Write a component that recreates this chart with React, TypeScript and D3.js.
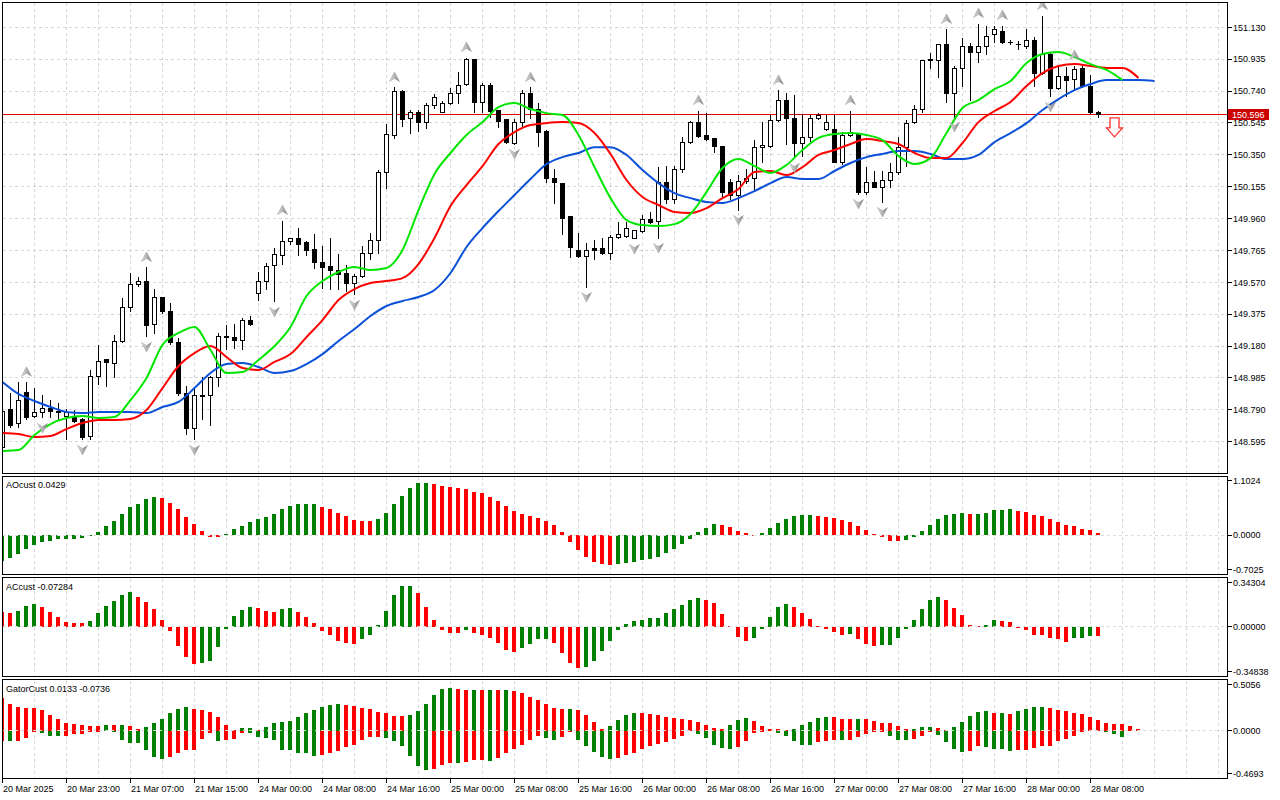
import React from 'react';
import * as d3 from 'd3';

// H1 bars, 20 Mar 15:00 .. 28 Mar 09:00
const opens = [
  148.562, 148.789, 148.704, 148.893, 148.752, 148.771, 148.801, 148.777, 148.752, 148.746,
  148.728, 148.624, 148.991, 149.095, 149.071, 149.211, 149.413, 149.554, 149.572, 149.309,
  149.480, 149.389, 149.199, 148.887, 148.673, 148.869, 148.875, 148.985, 149.236, 149.230,
  149.217, 149.334, 149.499, 149.572, 149.670, 149.731, 149.817, 149.835, 149.811, 149.768,
  149.694, 149.664, 149.645, 149.621, 149.560, 149.603, 149.749, 149.823, 150.239, 150.471,
  150.740, 150.575, 150.606, 150.545, 150.649, 150.606, 150.661, 150.728, 150.783, 150.930,
  150.667, 150.771, 150.618, 150.569, 150.422, 150.545, 150.722, 150.630, 150.490, 150.208,
  150.172, 149.970, 149.762, 149.725, 149.774, 149.774, 149.749, 149.847, 149.853, 149.841,
  149.878, 149.957, 149.939, 150.178, 150.074, 150.263, 150.428, 150.545, 150.471, 150.447,
  150.398, 150.178, 150.104, 150.184, 150.208, 150.392, 150.398, 150.557, 150.685, 150.575,
  150.422, 150.453, 150.575, 150.502, 150.502, 150.306, 150.471, 150.477, 150.117, 150.178,
  150.153, 150.190, 150.239, 150.392, 150.545, 150.630, 150.930, 150.924, 151.022, 150.728,
  150.875, 151.010, 150.973, 151.010, 151.083, 151.107, 151.040, 151.025, 151.010, 151.052,
  150.850, 150.961, 150.753, 150.832, 150.808, 150.875, 150.765, 150.609,
];
const highs = [
  148.819, 148.899, 148.961, 148.961, 148.924, 148.881, 148.856, 148.832, 148.801, 148.789,
  148.746, 149.034, 149.187, 149.107, 149.248, 149.480, 149.633, 149.603, 149.664, 149.535,
  149.486, 149.444, 149.230, 148.936, 148.930, 148.991, 148.997, 149.260, 149.309, 149.321,
  149.352, 149.364, 149.639, 149.694, 149.780, 149.951, 149.847, 149.908, 149.823, 149.866,
  149.798, 149.847, 149.749, 149.676, 149.621, 149.798, 149.872, 150.263, 150.539, 150.765,
  150.747, 150.630, 150.630, 150.667, 150.722, 150.685, 150.759, 150.857, 150.948, 150.936,
  150.795, 150.795, 150.630, 150.575, 150.575, 150.747, 150.765, 150.667, 150.502, 150.269,
  150.178, 149.970, 149.872, 149.811, 149.829, 149.847, 149.860, 149.939, 149.939, 149.896,
  149.982, 150.006, 150.276, 150.282, 150.282, 150.465, 150.557, 150.624, 150.606, 150.453,
  150.404, 150.208, 150.227, 150.269, 150.441, 150.551, 150.594, 150.747, 150.734, 150.716,
  150.600, 150.594, 150.606, 150.594, 150.594, 150.490, 150.624, 150.483, 150.276, 150.251,
  150.251, 150.300, 150.459, 150.563, 150.655, 150.930, 150.973, 151.028, 151.120, 150.899,
  151.065, 151.034, 151.156, 151.138, 151.144, 151.144, 151.058, 151.052, 151.120, 151.071,
  151.205, 150.979, 150.899, 150.893, 150.899, 150.899, 150.844, 150.624,
];
const lows = [
  148.526, 148.679, 148.679, 148.728, 148.740, 148.740, 148.746, 148.728, 148.606, 148.710,
  148.606, 148.606, 148.942, 148.930, 148.985, 149.199, 149.389, 149.542, 149.236, 149.254,
  149.382, 149.187, 148.875, 148.636, 148.606, 148.728, 148.697, 148.930, 149.156, 149.168,
  149.156, 149.303, 149.456, 149.523, 149.450, 149.676, 149.804, 149.731, 149.731, 149.652,
  149.535, 149.523, 149.523, 149.511, 149.493, 149.597, 149.707, 149.749, 150.141, 150.447,
  150.526, 150.483, 150.490, 150.508, 150.636, 150.606, 150.655, 150.661, 150.777, 150.606,
  150.606, 150.581, 150.514, 150.422, 150.416, 150.520, 150.575, 150.398, 150.178, 150.055,
  149.860, 149.719, 149.719, 149.541, 149.707, 149.743, 149.707, 149.841, 149.847, 149.835,
  149.872, 149.927, 149.841, 150.055, 150.055, 150.239, 150.422, 150.453, 150.435, 150.367,
  150.092, 150.074, 150.012, 150.172, 150.135, 150.306, 150.392, 150.551, 150.410, 150.331,
  150.337, 150.428, 150.563, 150.496, 150.300, 150.288, 150.459, 150.110, 150.110, 150.147,
  150.061, 150.147, 150.227, 150.276, 150.539, 150.606, 150.881, 150.820, 150.667, 150.581,
  150.765, 150.685, 150.912, 150.961, 151.034, 151.028, 151.022, 150.997, 151.003, 150.765,
  150.844, 150.704, 150.747, 150.704, 150.747, 150.759, 150.600, 150.581,
];
const closes = [
  148.777, 148.697, 148.850, 148.746, 148.771, 148.801, 148.777, 148.771, 148.771, 148.716,
  148.618, 148.991, 149.083, 149.077, 149.205, 149.413, 149.554, 149.572, 149.303, 149.480,
  149.389, 149.199, 148.887, 148.673, 148.875, 148.875, 148.985, 149.236, 149.230, 149.217,
  149.334, 149.309, 149.578, 149.664, 149.743, 149.817, 149.835, 149.804, 149.762, 149.694,
  149.658, 149.645, 149.615, 149.560, 149.603, 149.749, 149.823, 150.239, 150.477, 150.740,
  150.569, 150.606, 150.545, 150.649, 150.698, 150.661, 150.728, 150.777, 150.930, 150.667,
  150.771, 150.612, 150.551, 150.428, 150.545, 150.722, 150.630, 150.484, 150.208, 150.178,
  149.963, 149.780, 149.725, 149.762, 149.762, 149.749, 149.847, 149.860, 149.902, 149.884,
  149.957, 149.933, 150.178, 150.074, 150.263, 150.428, 150.545, 150.465, 150.441, 150.398,
  150.117, 150.104, 150.184, 150.208, 150.392, 150.404, 150.557, 150.685, 150.575, 150.422,
  150.453, 150.575, 150.588, 150.545, 150.306, 150.471, 150.484, 150.117, 150.178, 150.153,
  150.190, 150.239, 150.392, 150.539, 150.630, 150.924, 150.924, 151.022, 150.728, 150.881,
  151.010, 150.973, 151.010, 151.071, 151.114, 151.034, 151.034, 151.022, 151.052, 150.850,
  150.961, 150.753, 150.832, 150.802, 150.869, 150.765, 150.606, 150.596,
];

// alligator, one value every 2nd bar from bar 0 (lines run past the last bar)
const jaw = [
  148.960, 148.887, 148.844, 148.807, 148.777, 148.770, 148.777, 148.777, 148.777, 148.770,
  148.807, 148.838, 148.923, 149.015, 149.070, 149.076, 149.052, 149.015, 149.027, 149.070,
  149.131, 149.211, 149.284, 149.364, 149.425, 149.456, 149.480, 149.523, 149.627, 149.786,
  149.902, 150.006, 150.104, 150.202, 150.293, 150.336, 150.361, 150.397, 150.397, 150.349,
  150.257, 150.177, 150.116, 150.085, 150.061, 150.055, 150.085, 150.128, 150.177, 150.214,
  150.202, 150.202, 150.251, 150.300, 150.336, 150.355, 150.373, 150.373, 150.355, 150.324,
  150.324, 150.349, 150.428, 150.483, 150.544, 150.624, 150.691, 150.746, 150.783, 150.807,
  150.807, 150.807, 150.801,
];
const teeth = [
  148.648, 148.642, 148.624, 148.630, 148.673, 148.709, 148.728, 148.728, 148.734, 148.789,
  148.923, 149.058, 149.137, 149.180, 149.113, 149.046, 149.034, 149.083, 149.131, 149.235,
  149.339, 149.462, 149.529, 149.566, 149.578, 149.596, 149.682, 149.841, 150.037, 150.165,
  150.281, 150.416, 150.489, 150.532, 150.544, 150.550, 150.544, 150.483, 150.355, 150.196,
  150.092, 150.043, 150.000, 149.994, 150.024, 150.085, 150.141, 150.245, 150.251, 150.226,
  150.275, 150.349, 150.379, 150.416, 150.446, 150.434, 150.416, 150.361, 150.330, 150.330,
  150.422, 150.550, 150.618, 150.673, 150.771, 150.850, 150.893, 150.905, 150.893, 150.881,
  150.881, 150.820,
];
const lips = [
  148.538, 148.544, 148.636, 148.703, 148.740, 148.752, 148.740, 148.746, 148.850, 148.985,
  149.187, 149.260, 149.297, 149.156, 149.015, 149.021, 149.095, 149.180, 149.297, 149.486,
  149.578, 149.633, 149.664, 149.645, 149.658, 149.768, 150.012, 150.233, 150.361, 150.471,
  150.550, 150.642, 150.667, 150.630, 150.605, 150.593, 150.471, 150.275, 150.085, 149.951,
  149.920, 149.914, 149.926, 149.988, 150.122, 150.269, 150.324, 150.281, 150.239, 150.288,
  150.379, 150.453, 150.477, 150.483, 150.471, 150.440, 150.343, 150.294, 150.330, 150.483,
  150.636, 150.685, 150.752, 150.801, 150.911, 150.967, 150.979, 150.948, 150.905, 150.869,
  150.807,
];

const ao = [
  -0.52, -0.473, -0.392, -0.29, -0.21, -0.149, -0.12, -0.08, -0.078, -0.07,
  -0.05, -0.02, 0.054, 0.18, 0.277, 0.42, 0.56, 0.64, 0.73, 0.763,
  0.743, 0.66, 0.527, 0.365, 0.216, 0.074, -0.03, -0.035, 0.014, 0.12,
  0.18, 0.257, 0.318, 0.365, 0.426, 0.527, 0.58, 0.62, 0.625, 0.63,
  0.568, 0.527, 0.446, 0.378, 0.297, 0.277, 0.275, 0.324, 0.44, 0.64,
  0.8, 0.946, 1.047, 1.05, 1.027, 0.986, 0.966, 0.946, 0.94, 0.878,
  0.845, 0.777, 0.7, 0.58, 0.48, 0.42, 0.378, 0.338, 0.277, 0.196,
  0.054, -0.149, -0.31, -0.453, -0.554, -0.595, -0.615, -0.595, -0.574, -0.554,
  -0.514, -0.48, -0.44, -0.37, -0.29, -0.19, -0.07, 0.054, 0.135, 0.216,
  0.21, 0.155, 0.074, 0.034, 0.005, 0.034, 0.135, 0.236, 0.318, 0.378,
  0.4, 0.405, 0.378, 0.358, 0.338, 0.297, 0.257, 0.176, 0.095, 0.014,
  -0.034, -0.12, -0.125, -0.1, -0.034, 0.074, 0.196, 0.318, 0.4, 0.42,
  0.44, 0.42, 0.425, 0.44, 0.5, 0.505, 0.52, 0.48, 0.46, 0.4,
  0.378, 0.318, 0.257, 0.196, 0.176, 0.115, 0.095, 0.0429,
];
const ac = [
  0.114, 0.109, 0.127, 0.163, 0.179, 0.155, 0.119, 0.078, 0.041, 0.031,
  0.03, 0.049, 0.109, 0.163, 0.202, 0.249, 0.272, 0.233, 0.194, 0.14,
  0.054, -0.036, -0.148, -0.238, -0.285, -0.283, -0.262, -0.16, -0.013, 0.085,
  0.132, 0.153, 0.148, 0.124, 0.117, 0.14, 0.148, 0.117, 0.075, 0.031,
  -0.036, -0.067, -0.106, -0.122, -0.13, -0.098, -0.06, 0.016, 0.124, 0.249,
  0.319, 0.32, 0.264, 0.155, 0.054, -0.021, -0.044, -0.045, -0.028, -0.044,
  -0.067, -0.09, -0.122, -0.176, -0.192, -0.168, -0.13, -0.098, -0.097, -0.122,
  -0.2, -0.277, -0.316, -0.315, -0.262, -0.184, -0.106, -0.028, 0.021, 0.047,
  0.057, 0.07, 0.071, 0.109, 0.14, 0.171, 0.21, 0.225, 0.21, 0.187,
  0.101, 0.003, -0.075, -0.106, -0.09, -0.013, 0.078, 0.155, 0.179, 0.155,
  0.109, 0.062, 0.005, -0.016, -0.039, -0.06, -0.059, -0.098, -0.13, -0.145,
  -0.144, -0.143, -0.09, -0.02, 0.057, 0.142, 0.21, 0.233, 0.21, 0.148,
  0.093, 0.016, 0.008, 0.016, 0.054, 0.047, 0.039, -0.003, -0.028, -0.06,
  -0.067, -0.083, -0.098, -0.114, -0.09, -0.089, -0.07, -0.07284,
];
const gatorUp = [
  0.359, 0.293, 0.26, 0.249, 0.248, 0.227, 0.172, 0.128, 0.084, 0.073,
  0.066, 0.051, 0.05, 0.062, 0.061, 0.063, 0.051, 0.02, 0.04, 0.084,
  0.128, 0.194, 0.238, 0.26, 0.238, 0.227, 0.205, 0.15, 0.066, 0.007,
  0.029, 0.03, 0.01, 0.04, 0.084, 0.095, 0.11, 0.15, 0.194, 0.227,
  0.26, 0.282, 0.293, 0.282, 0.271, 0.249, 0.238, 0.205, 0.194, 0.161,
  0.16, 0.172, 0.216, 0.293, 0.392, 0.458, 0.469, 0.458, 0.447, 0.448,
  0.446, 0.447, 0.446, 0.447, 0.436, 0.414, 0.37, 0.337, 0.293, 0.249,
  0.238, 0.239, 0.227, 0.172, 0.095, 0.018, 0.051, 0.117, 0.172, 0.195,
  0.194, 0.183, 0.172, 0.15, 0.139, 0.128, 0.117, 0.095, 0.062, 0.029,
  0.018, 0.062, 0.117, 0.139, 0.106, 0.051, 0.018, 0.017, 0.007, 0.018,
  0.062, 0.095, 0.139, 0.15, 0.149, 0.128, 0.127, 0.128, 0.127, 0.106,
  0.084, 0.083, 0.051, 0.018, 0.019, 0.04, 0.041, 0.029, 0.005, 0.04,
  0.095, 0.161, 0.205, 0.216, 0.194, 0.195, 0.183, 0.216, 0.238, 0.26,
  0.261, 0.249, 0.227, 0.216, 0.194, 0.183, 0.15, 0.117, 0.084, 0.073,
  0.072, 0.051, 0.0133,
];
const gatorDown = [
  -0.117, -0.118, -0.11, -0.077, -0.007, -0.029, -0.055, -0.056, -0.055, -0.037,
  -0.036, -0.007, -0.006, 0, -0.007, -0.099, -0.132, -0.133, -0.209, -0.286,
  -0.311, -0.286, -0.242, -0.209, -0.208, -0.088, -0.029, -0.11, -0.099, -0.088,
  -0.029, -0.03, -0.066, -0.077, -0.099, -0.209, -0.21, -0.242, -0.243, -0.275,
  -0.264, -0.242, -0.22, -0.176, -0.154, -0.099, -0.073, -0.066, -0.077, -0.11,
  -0.165, -0.275, -0.385, -0.429, -0.418, -0.374, -0.352, -0.353, -0.341, -0.319,
  -0.318, -0.33, -0.297, -0.242, -0.198, -0.154, -0.099, -0.055, -0.077, -0.099,
  -0.066, -0.011, -0.099, -0.165, -0.231, -0.286, -0.308, -0.297, -0.264, -0.242,
  -0.198, -0.165, -0.143, -0.121, -0.088, -0.055, 0, -0.033, -0.077, -0.154,
  -0.187, -0.198, -0.176, -0.11, -0.022, -0.011, 0, -0.022, -0.055, -0.11,
  -0.154, -0.156, -0.121, -0.11, -0.099, -0.1, -0.099, -0.066, -0.04, -0.02,
  -0.012, -0.055, -0.099, -0.1, -0.088, -0.055, -0.011, -0.044, -0.121, -0.198,
  -0.231, -0.22, -0.165, -0.176, -0.198, -0.199, -0.22, -0.209, -0.208, -0.187,
  -0.165, -0.164, -0.11, -0.088, -0.055, -0.011, 0, 0, -0.011, -0.033,
  -0.0736,
];

const fractalUp = [3, 18, 35, 49, 58, 66, 87, 97, 106, 118, 122, 125, 130, 134];
const fractalDown = [5, 10, 18, 24, 34, 44, 64, 73, 79, 82, 92, 99, 107, 110, 119, 131];

const timeLabels = [
  '20 Mar 2025', '20 Mar 23:00', '21 Mar 07:00', '21 Mar 15:00', '24 Mar 00:00', '24 Mar 08:00',
  '24 Mar 16:00', '25 Mar 00:00', '25 Mar 08:00', '25 Mar 16:00', '26 Mar 00:00', '26 Mar 08:00',
  '26 Mar 16:00', '27 Mar 00:00', '27 Mar 08:00', '27 Mar 16:00', '28 Mar 00:00', '28 Mar 08:00',
];
const priceTicks = [
  151.130, 150.935, 150.740, 150.545, 150.350, 150.155, 149.960,
  149.765, 149.570, 149.375, 149.180, 148.985, 148.790, 148.595,
];
const aoTicks = ['1.1024', '0.0000', '-0.7025'];
const acTicks = ['0.34304', '0.00000', '-0.34838'];
const gatorTicks = ['0.5056', '0.0000', '-0.4693'];

const lastPrice = 150.596;
const sellSignal = { bar: 139, price: 150.576 };

const FONT = '"Liberation Sans", Arial, sans-serif';
const GREEN = '#008000';
const RED = '#ff0000';
const GRID = '#d6d6d6';
const L = 2.5;
const R = 1227.5;

const snap = (v: number) => Math.floor(v) + 0.5;

export default function App() {
  const x = d3.scaleLinear().domain([0, 1]).range([2.5, 10.5]);
  const yMain = d3.scaleLinear().domain([148.595, 151.13]).range([441.7, 27.3]);
  const yAO = d3.scaleLinear().domain([-0.7025, 1.1024]).range([569.7, 480.7]);
  const yAC = d3.scaleLinear().domain([-0.34838, 0.34304]).range([671.7, 582.7]);
  const yGator = d3.scaleLinear().domain([-0.4693, 0.5056]).range([773.3, 684.7]);

  const mkLine = d3
    .line<number>()
    .x((_, k) => x(2 * k))
    .y((v) => yMain(v))
    .curve(d3.curveMonotoneX);

  const vGrid = d3.range(0, 39).map((k) => x(4 * k));

  // histogram bars, coloured by rise/fall against the previous bar
  const histogram = (
    values: number[],
    y: d3.ScaleLinear<number, number>,
    firstUp: boolean,
    byAbs: boolean,
    key: string
  ) => {
    const zero = Math.round(y(0));
    return values.map((v, i) => {
      if (v === 0) return null;
      const prev = values[i - 1];
      const up =
        i === 0 ? firstUp : byAbs ? Math.abs(v) > Math.abs(prev) : v > prev;
      const yv = Math.round(y(v));
      const top = Math.min(yv, zero);
      const h = Math.max(1, Math.abs(yv - zero));
      return (
        <rect
          key={key + i}
          x={x(i) - 2.5}
          y={top}
          width={4}
          height={h}
          fill={up ? GREEN : RED}
        />
      );
    });
  };

  const paneVGrid = (top: number, bottom: number, key: string) => (
    <g key={key} stroke={GRID} strokeDasharray="3,3" shapeRendering="crispEdges">
      {vGrid.map((gx, k) => (
        <line key={k} x1={gx} x2={gx} y1={top} y2={bottom} />
      ))}
    </g>
  );

  const zeroLine = (zeroY: number) => (
    <line
      x1={L}
      x2={R}
      y1={snap(zeroY)}
      y2={snap(zeroY)}
      stroke="#dcdcdc"
      strokeDasharray="3,3"
      shapeRendering="crispEdges"
    />
  );

  const axisLabels = (labels: string[], y: d3.ScaleLinear<number, number>, key: string) =>
    labels.map((t) => {
      const yy = y(parseFloat(t));
      return (
        <g key={key + t}>
          <line x1={R} x2={R + 4} y1={snap(yy)} y2={snap(yy)} stroke="#000" shapeRendering="crispEdges" />
          <text x={1233} y={yy + 3.3} fontSize={9} fill="#000">
            {t}
          </text>
        </g>
      );
    });

  const fractalPath = 'M0,-5L5,4.5L0,1.5L-5,4.5Z';
  const yLast = yMain(lastPrice);
  const sx = x(sellSignal.bar);
  const sy = yMain(sellSignal.price);

  return (
    <svg
      width={1280}
      height={800}
      style={{ position: 'absolute', left: 0, top: 0, background: '#fff' }}
      fontFamily={FONT}
    >
      <defs>
        <clipPath id="mainClip">
          <rect x={3} y={3} width={1224} height={470} />
        </clipPath>
        <clipPath id="aoClip">
          <rect x={3} y={477} width={1224} height={98} />
        </clipPath>
        <clipPath id="acClip">
          <rect x={3} y={579} width={1224} height={97} />
        </clipPath>
        <clipPath id="gatorClip">
          <rect x={3} y={681} width={1224} height={97} />
        </clipPath>
        <linearGradient id="fractalFill" x1="0" x2="1" y1="0" y2="0">
          <stop offset="0%" stopColor="#e2e2e2" />
          <stop offset="50%" stopColor="#b4b4b4" />
          <stop offset="100%" stopColor="#7a7a7a" />
        </linearGradient>
      </defs>

      {/* main chart grid */}
      <g stroke={GRID} strokeDasharray="3,3" shapeRendering="crispEdges">
        {vGrid.map((gx, k) => (
          <line key={k} x1={gx} x2={gx} y1={3} y2={473} />
        ))}
        {priceTicks.map((p) => (
          <line key={p} x1={L} x2={R} y1={snap(yMain(p))} y2={snap(yMain(p))} />
        ))}
      </g>

      {/* last price line */}
      <line x1={L} x2={R} y1={snap(yLast)} y2={snap(yLast)} stroke="#e00000" shapeRendering="crispEdges" />

      <g clipPath="url(#mainClip)">
        {/* candles */}
        <g shapeRendering="crispEdges">
          {opens.map((o, i) => {
            const c = closes[i];
            const xc = x(i);
            const yT = snap(yMain(Math.max(o, c)));
            const yB = snap(yMain(Math.min(o, c)));
            const bull = c > o;
            return (
              <g key={i}>
                <line x1={xc} x2={xc} y1={snap(yMain(highs[i]))} y2={snap(yMain(lows[i]))} stroke="#000" />
                {yB - yT < 1 ? (
                  <line x1={xc - 2.5} x2={xc + 2.5} y1={yT} y2={yT} stroke="#000" />
                ) : (
                  <rect x={xc - 2} y={yT} width={4} height={yB - yT} fill={bull ? '#fff' : '#000'} stroke="#000" />
                )}
              </g>
            );
          })}
        </g>

        {/* alligator */}
        <path d={mkLine(jaw) || ''} fill="none" stroke="#0b50d8" strokeWidth={2} />
        <path d={mkLine(teeth) || ''} fill="none" stroke="#ff0000" strokeWidth={2} />
        <path d={mkLine(lips) || ''} fill="none" stroke="#00e600" strokeWidth={2} />

        {/* fractals */}
        {fractalUp.map((i) => (
          <path
            key={'fu' + i}
            d={fractalPath}
            transform={`translate(${x(i)},${yMain(highs[i]) - 10})`}
            fill="url(#fractalFill)"
            stroke="#9a9a9a"
            strokeWidth={0.5}
          />
        ))}
        {fractalDown.map((i) => (
          <path
            key={'fd' + i}
            d={fractalPath}
            transform={`translate(${x(i)},${yMain(lows[i]) + 10}) scale(1,-1)`}
            fill="url(#fractalFill)"
            stroke="#9a9a9a"
            strokeWidth={0.5}
          />
        ))}
      </g>

      {/* sell signal arrow */}
      <path
        d={`M${sx - 4.5},${sy}H${sx + 4.5}V${sy + 10}H${sx + 8}L${sx},${sy + 19}L${sx - 8},${sy + 10}H${sx - 4.5}Z`}
        fill="#fff"
        stroke="#ff3030"
        strokeWidth={1.3}
      />

      {/* price axis */}
      {priceTicks.map((p) => (
        <g key={'pt' + p}>
          <line x1={R} x2={R + 4} y1={snap(yMain(p))} y2={snap(yMain(p))} stroke="#000" shapeRendering="crispEdges" />
          <text x={1233} y={yMain(p) + 3.3} fontSize={9} fill="#000">
            {p.toFixed(3)}
          </text>
        </g>
      ))}
      <rect x={1228} y={Math.round(yLast) - 6} width={41} height={11} fill="#cc0000" />
      <text x={1232} y={yLast + 3.3} fontSize={9} fill="#fff">
        {lastPrice.toFixed(3)}
      </text>

      {/* AO pane */}
      {paneVGrid(477, 575, 'aog')}
      <g clipPath="url(#aoClip)" shapeRendering="crispEdges">
        {histogram(ao, yAO, true, false, 'ao')}
      </g>
      {zeroLine(yAO(0))}
      {axisLabels(aoTicks, yAO, 'aot')}
      <text x={6} y={488} fontSize={9}>
        AOcust 0.0429
      </text>

      {/* AC pane */}
      {paneVGrid(579, 676, 'acg')}
      <g clipPath="url(#acClip)" shapeRendering="crispEdges">
        {histogram(ac, yAC, false, false, 'ac')}
      </g>
      {zeroLine(yAC(0))}
      {axisLabels(acTicks, yAC, 'act')}
      <text x={6} y={590} fontSize={9}>
        ACcust -0.07284
      </text>

      {/* Gator pane */}
      {paneVGrid(681, 778, 'gg')}
      <g clipPath="url(#gatorClip)" shapeRendering="crispEdges">
        {histogram(gatorUp, yGator, false, true, 'gu')}
        {histogram(gatorDown, yGator, false, true, 'gd')}
      </g>
      {zeroLine(yGator(0))}
      {axisLabels(gatorTicks, yGator, 'gt')}
      <text x={6} y={692} fontSize={9}>
        GatorCust 0.0133 -0.0736
      </text>

      {/* pane frames */}
      <g fill="none" stroke="#000" shapeRendering="crispEdges">
        <rect x={L} y={2.5} width={R - L} height={471} />
        <rect x={L} y={476.5} width={R - L} height={98} />
        <rect x={L} y={577.5} width={R - L} height={99} />
        <rect x={L} y={679.5} width={R - L} height={99} />
      </g>

      {/* time axis */}
      {timeLabels.map((t, k) => {
        const tx = x(8 * k);
        return (
          <g key={t}>
            <line x1={tx} x2={tx} y1={779} y2={783} stroke="#000" shapeRendering="crispEdges" />
            <text x={tx + 0.5} y={792} fontSize={9} fill="#000">
              {t}
            </text>
          </g>
        );
      })}
    </svg>
  );
}
